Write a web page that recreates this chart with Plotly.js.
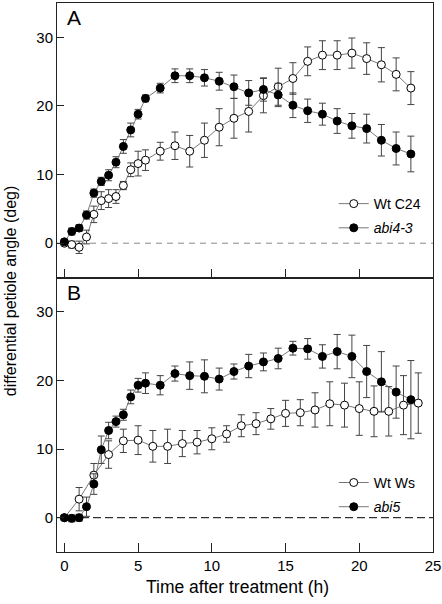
<!DOCTYPE html>
<html>
<head>
<meta charset="utf-8">
<script src="https://cdn.plot.ly/plotly-3.0.1.min.js"></script>
<style>html,body{margin:0;padding:0;background:#fff;}#chart{width:442px;height:604px;}</style>
</head>
<body>
<div id="chart"></div>
<script>
// Panel A: Wt C24 and abi4-3
const timeA = [0,0.5,1,1.5,2,2.5,3,3.5,4,4.5,5,5.5,6.5,7.5,8.5,9.5,10.5,11.5,12.5,13.5,14.5,15.5,16.5,17.5,18.5,19.5,20.5,21.5,22.5,23.5];
const wtC24 = [0,-0.2,-0.6,0.9,4.2,6.2,6.5,6.8,8.4,10.7,11.6,12.1,13.4,14.2,13.4,15.0,16.9,18.2,19.2,21.5,22.8,24.0,26.5,27.4,27.4,27.7,26.9,26.0,24.6,22.6];
const wtC24Err = [0.3,0.5,0.9,1.0,1.2,1.3,1.3,1.0,0.6,1.0,1.8,1.5,1.3,2.0,2.3,2.5,2.7,2.9,3.0,2.5,2.7,2.3,2.1,2.1,2.1,2.2,2.3,2.5,2.4,2.4];
const abi43 = [0.2,1.7,2.2,4.1,7.3,9.0,9.9,11.8,14.1,16.5,18.8,21.1,22.6,24.4,24.4,24.1,23.6,22.8,21.9,22.4,21.6,20.1,19.3,18.8,17.8,17.1,16.7,15.0,13.8,13.0];
const abi43Err = [0.4,0.5,0.5,0.6,0.6,0.6,0.8,0.8,1.0,1.0,0.7,0.5,0.7,1.0,1.0,1.2,1.3,1.7,1.8,1.7,1.7,1.8,1.7,1.6,1.8,1.8,2.1,2.3,2.4,2.6];

// Panel B: Wt Ws and abi5
const timeWs = [0,1,2,3,4,5,6,7,8,9,10,11,12,13,14,15,16,17,18,19,20,21,22,23,24];
const wtWs = [0,2.7,6.2,9.2,11.2,11.3,10.4,10.4,10.8,11.0,11.5,12.2,13.4,13.7,14.4,15.2,15.3,15.7,16.6,16.4,15.9,15.5,15.5,16.4,16.7];
const wtWsErr = [0.4,1.7,1.7,2.0,1.7,2.1,2.3,2.5,1.9,1.7,1.6,1.2,1.6,1.6,1.5,1.9,1.9,2.5,3.2,3.2,3.9,3.7,3.6,4.3,4.4];
const timeAbi5 = [0,0.5,1,1.5,2,2.5,3,3.5,4,4.5,5,5.5,6.5,7.5,8.5,9.5,10.5,11.5,12.5,13.5,14.5,15.5,16.5,17.5,18.5,19.5,20.5,21.5,22.5,23.5];
const abi5 = [0,-0.1,0,1.6,4.9,9.9,12.7,14.0,15.0,17.6,19.3,19.6,19.3,21.0,20.7,20.6,20.2,21.3,22.1,22.7,23.2,24.7,24.6,23.5,24.2,23.5,21.3,19.8,18.3,17.2];
const abi5Err = [0.4,0.5,0.5,1.4,1.5,2.0,1.2,0.8,0.8,1.0,1.0,1.5,1.4,1.1,2.0,2.4,1.6,1.1,1.7,1.3,1.5,1.0,1.5,1.7,2.5,3.1,3.8,4.4,3.8,5.7];

const xTicks = [0,5,10,15,20,25];
const yTicks = [0,10,20,30];

const FONT = 'Liberation Sans, Arial, Helvetica, sans-serif';

function series(x, y, err, name, filled, xa, ya, leg, grp) {
  return {
    x: x, y: y, type: 'scatter', mode: 'lines+markers', name: name,
    xaxis: xa, yaxis: ya, legend: leg, legendgroup: grp,
    line: {color: '#555', width: 0.8},
    marker: {symbol: 'circle', size: 8, color: filled ? '#000' : '#fff', line: {color: '#000', width: 1}},
    error_y: {type: 'data', array: err, visible: true, color: '#444', thickness: 1, width: 3.5}
  };
}

const data = [
  series(timeA, wtC24, wtC24Err, 'Wt C24', false, 'x2', 'y2', 'legend', 'a1'),
  series(timeA, abi43, abi43Err, '<i>abi4-3</i>', true, 'x2', 'y2', 'legend', 'a2'),
  series(timeWs, wtWs, wtWsErr, 'Wt Ws', false, 'x', 'y', 'legend2', 'b1'),
  series(timeAbi5, abi5, abi5Err, '<i>abi5</i>', true, 'x', 'y', 'legend2', 'b2')
];

const axisCommon = {
  showgrid: false, zeroline: false, showline: true, mirror: true,
  linecolor: '#222', linewidth: 1, ticks: 'inside', tickcolor: '#222', tickwidth: 1,
  tickfont: {family: FONT, size: 15, color: '#000'}
};

const legendCommon = {
  xanchor: 'left', yanchor: 'top', bgcolor: 'rgba(0,0,0,0)',
  font: {family: FONT, size: 14, color: '#000'},
  traceorder: 'grouped', tracegroupgap: 3
};

const layout = {
  width: 442, height: 604,
  margin: {l: 57, r: 9, t: 3, b: 52},
  paper_bgcolor: '#fff', plot_bgcolor: '#fff',
  font: {family: FONT, color: '#000'},
  showlegend: true,
  xaxis: Object.assign({}, axisCommon, {
    domain: [0, 1], anchor: 'y', range: [-0.5, 25], tickvals: xTicks, ticklen: 9
  }),
  yaxis: Object.assign({}, axisCommon, {
    domain: [0, 0.5], anchor: 'x', range: [-5, 35], tickvals: yTicks, ticklen: 7
  }),
  xaxis2: Object.assign({}, axisCommon, {
    domain: [0, 1], anchor: 'y2', range: [-0.5, 25], tickvals: xTicks, ticklen: 9, showticklabels: false
  }),
  yaxis2: Object.assign({}, axisCommon, {
    domain: [0.5, 1], anchor: 'x2', range: [-5, 35], tickvals: yTicks, ticklen: 7
  }),
  legend: Object.assign({}, legendCommon, {x: 0.736, y: 0.663}),
  legend2: Object.assign({}, legendCommon, {x: 0.736, y: 0.155}),
  shapes: [
    {type: 'line', xref: 'x2 domain', x0: 0, x1: 1, yref: 'y2', y0: 0, y1: 0,
     line: {color: '#888', width: 1, dash: '6px,5px'}, layer: 'below'},
    {type: 'line', xref: 'x domain', x0: 0, x1: 1, yref: 'y', y0: 0, y1: 0,
     line: {color: '#000', width: 1, dash: '8px,4px'}, layer: 'below'}
  ],
  annotations: [
    {text: 'A', xref: 'x2 domain', yref: 'y2 domain', x: 0.02, y: 0.995, xanchor: 'left', yanchor: 'top',
     showarrow: false, font: {family: FONT, size: 21, color: '#000'}},
    {text: 'B', xref: 'x domain', yref: 'y domain', x: 0.02, y: 0.995, xanchor: 'left', yanchor: 'top',
     showarrow: false, font: {family: FONT, size: 21, color: '#000'}},
    {text: 'differential petiole angle (deg)', xref: 'paper', yref: 'paper', x: -0.125, y: 0.475,
     xanchor: 'center', yanchor: 'middle', textangle: -90, showarrow: false,
     font: {family: FONT, size: 16, color: '#000'}},
    {text: 'Time after treatment (h)', xref: 'paper', yref: 'paper', x: 0.479, y: -0.064,
     xanchor: 'center', yanchor: 'middle', showarrow: false,
     font: {family: FONT, size: 17.5, color: '#000'}}
  ]
};

Plotly.newPlot('chart', data, layout, {displayModeBar: false, staticPlot: true});
</script>
</body>
</html>
